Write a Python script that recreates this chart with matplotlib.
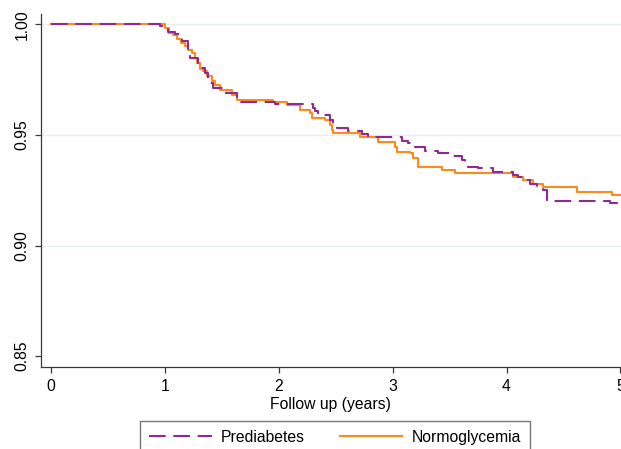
import matplotlib
matplotlib.use("Agg")
import matplotlib.pyplot as plt

plt.rcParams['font.family'] = ['Liberation Sans', 'DejaVu Sans']
plt.rcParams['lines.scale_dashes'] = False

# Kaplan-Meier style step curves (time in years, survival)
pre_t = [0.0, 0.961, 1.029, 1.090, 1.152, 1.204, 1.222, 1.292, 1.354, 1.380, 1.424,
         1.512, 1.634, 1.967, 2.301, 2.319, 2.345, 2.450, 2.476, 2.511, 2.608,
         2.731, 2.783, 2.818, 3.082, 3.134, 3.169, 3.283, 3.397, 3.503, 3.608,
         3.635, 3.661, 3.748, 3.880, 4.055, 4.099, 4.161, 4.204, 4.266, 4.318,
         4.354, 4.906, 5.0]
pre_s = [1.0, 0.9991, 0.9965, 0.9956, 0.9926, 0.9879, 0.9848, 0.9803, 0.9780, 0.9735,
         0.9712, 0.9690, 0.9650, 0.9640, 0.9622, 0.9608, 0.9590, 0.9568, 0.9545,
         0.9530, 0.9518, 0.9504, 0.9497, 0.9489, 0.9474, 0.9462, 0.9447, 0.9429,
         0.9417, 0.9405, 0.9387, 0.9373, 0.9355, 0.9350, 0.9334, 0.9319, 0.9310,
         0.9294, 0.9279, 0.9266, 0.9251, 0.9203, 0.9191, 0.9191]

nor_t = [0.0, 1.003, 1.038, 1.073, 1.108, 1.143, 1.178, 1.204, 1.239, 1.266, 1.283,
         1.310, 1.336, 1.371, 1.415, 1.441, 1.485, 1.590, 1.634, 1.950, 2.073,
         2.187, 2.275, 2.292, 2.406, 2.450, 2.467, 2.476, 2.713, 2.871, 3.020,
         3.038, 3.152, 3.178, 3.222, 3.432, 3.546, 4.055, 4.143, 4.230, 4.318,
         4.617, 4.924, 5.0]
nor_s = [1.0, 0.9983, 0.9960, 0.9950, 0.9935, 0.9916, 0.9900, 0.9885, 0.9870, 0.9848,
         0.9825, 0.9800, 0.9790, 0.9766, 0.9744, 0.9727, 0.9705, 0.9680, 0.9658,
         0.9648, 0.9637, 0.9613, 0.9600, 0.9578, 0.9568, 0.9545, 0.9523, 0.9508,
         0.9492, 0.9468, 0.9447, 0.9424, 0.9417, 0.9395, 0.9354, 0.9342, 0.9327,
         0.9312, 0.9297, 0.9279, 0.9266, 0.9244, 0.9229, 0.9229]

x_ticks = [0, 1, 2, 3, 4, 5]
y_ticks = [0.85, 0.90, 0.95, 1.00]
grid_vals = [0.90, 0.95, 1.00]

purple = '#8e2a92'
orange = '#ff8a1c'
axis_col = '#3a3a3a'
fs = 11.3

fig = plt.figure(figsize=(6.21, 4.49), dpi=100)
ax = fig.add_axes([40.7 / 621, 1 - 367 / 449, 1 - 40.7 / 621, (367 - 14) / 449])

for g in grid_vals:
    ax.axhline(g, color='#e6eef1', lw=1.0, zorder=0)

ax.step(pre_t, pre_s, where='post', color=purple, lw=1.5,
        linestyle=(0, (12, 5.5)), label='Prediabetes', zorder=3)
ax.step(nor_t, nor_s, where='post', color=orange, lw=1.5,
        label='Normoglycemia', zorder=2)

ax.set_xlim(-0.0877, 5.0044)
ax.set_ylim(0.8451, 1.00465)
ax.set_xticks(x_ticks)
ax.set_yticks(y_ticks)
ax.set_yticklabels([f'{v:.2f}' for v in y_ticks], rotation=90, va='center')

for side in ['top', 'right']:
    ax.spines[side].set_visible(False)
for side in ['left', 'bottom']:
    ax.spines[side].set_color(axis_col)
    ax.spines[side].set_linewidth(0.9)

ax.tick_params(axis='both', direction='out', length=4, width=0.9,
               color=axis_col, labelsize=fs, labelcolor='black')
ax.tick_params(axis='x', pad=4.5)
ax.tick_params(axis='y', pad=4)

ax.set_xlabel('Follow up (years)', fontsize=fs, labelpad=2)

leg = fig.legend(loc='upper center', bbox_to_anchor=(335 / 621, 1 - 421 / 449),
                 ncol=2, fontsize=fs, frameon=True, fancybox=False,
                 edgecolor='#555555', handlelength=4.0, handletextpad=0.6,
                 columnspacing=2.2, borderpad=0.55, borderaxespad=0)
leg.get_frame().set_linewidth(1.0)

fig.savefig('out.png', dpi=100)
